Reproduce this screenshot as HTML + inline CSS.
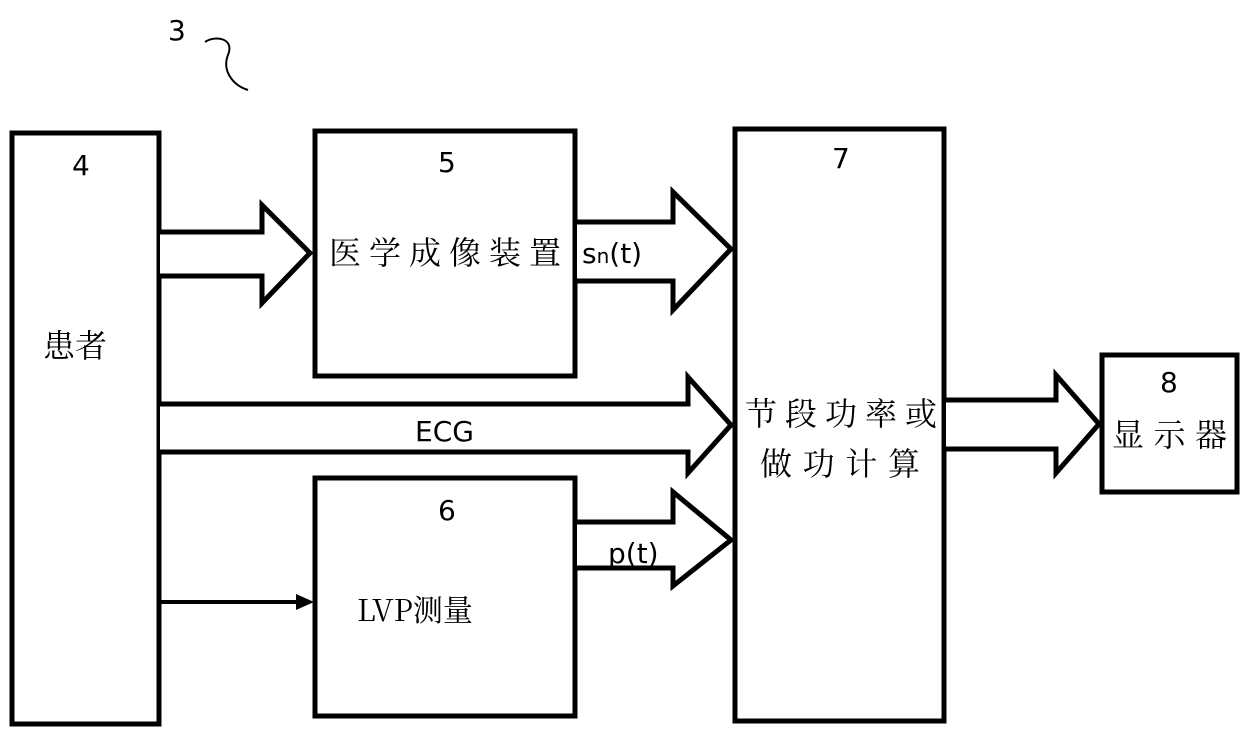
<!DOCTYPE html>
<html><head><meta charset="utf-8"><style>
body{margin:0;background:#fff}
svg text{font-family:"DejaVu Sans","Liberation Sans",sans-serif;fill:#000}
.c{font-family:"Noto Serif CJK SC","Noto Sans CJK SC",serif}
</style></head><body>
<svg width="1240" height="739" viewBox="0 0 1240 739" xmlns="http://www.w3.org/2000/svg">
<g fill="#fff" stroke="#000" stroke-width="5" stroke-linejoin="miter">
<rect x="12" y="133" width="147" height="591"/>
<rect x="315" y="131" width="260" height="245"/>
<rect x="735" y="129" width="209" height="592"/>
<rect x="315" y="478" width="260" height="238"/>
<rect x="1102" y="355" width="135" height="137"/>
<polyline points="160,232 262,232 262,205 310,253 262,303 262,276 160,276"/>
<polyline points="577,222 673,222 673,192 731,249 673,310 673,281 577,281"/>
<polyline points="160,404 688,404 688,377 731,425 688,473 688,452 160,452"/>
<polyline points="577,522 673,522 673,492 731,540 673,586 673,568 577,568"/>
<polyline points="946,400 1056,400 1056,375 1099,424 1056,473 1056,449 946,449"/>
</g>
<line x1="160" y1="602" x2="300" y2="602" stroke="#000" stroke-width="4"/>
<polygon points="296,594 314,602 296,610" fill="#000"/>
<path d="M205,42 C215,35 235,38 228,55 C222,70 232,85 248,90" fill="none" stroke="#000" stroke-width="2"/>
<text x="168" y="40" font-size="28">3</text>
<text x="72" y="175" font-size="28">4</text>
<text x="438" y="172" font-size="28">5</text>
<text x="832" y="168" font-size="28">7</text>
<text x="438" y="520" font-size="28">6</text>
<text x="1160" y="392" font-size="28">8</text>
<text class="c" x="43" y="357" font-size="32">患者</text>
<text class="c" x="329" y="264" font-size="32" textLength="232">医学成像装置</text>
<text x="582" y="263" font-size="28">s<tspan font-size="20">n</tspan>(t)</text>
<text x="415" y="441" font-size="28">ECG</text>
<text x="608" y="563" font-size="28">p(t)</text>
<text class="c" x="357" y="621" font-size="30">LVP测量</text>
<text class="c" x="745" y="425" font-size="32" textLength="192">节段功率或</text>
<text class="c" x="760" y="475" font-size="32" textLength="160">做功计算</text>
<text class="c" x="1112" y="446" font-size="32" textLength="115">显示器</text>
</svg>
</body></html>
